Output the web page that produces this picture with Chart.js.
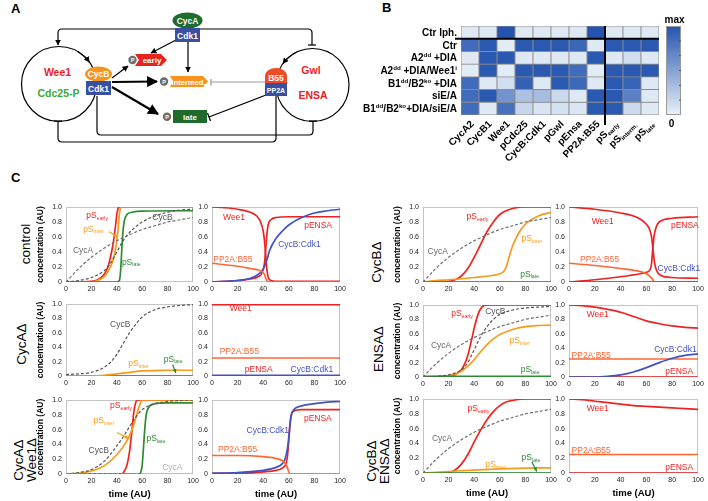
<!DOCTYPE html>
<html>
<head>
<meta charset="utf-8">
<script src="https://cdn.jsdelivr.net/npm/chart.js@4.4.1/dist/chart.umd.min.js"></script>
<style>
  body { margin: 0; background: #fff; width: 708px; height: 501px; overflow: hidden; position: relative;
         font-family: "Liberation Sans", Arial, sans-serif; }
  canvas { position: absolute; }
  .lbl { position: absolute; white-space: nowrap; }
  .panel { font-weight: bold; font-size: 13px; }
  .rot { transform: translate(-50%, -50%) rotate(-90deg); text-align: center; font-size: 13.5px; line-height: 12.5px; }
</style>
</head>
<body>

<div class="lbl panel" style="left:11px;top:1px">A</div>
<div class="lbl panel" style="left:382px;top:0px">B</div>
<div class="lbl panel" style="left:11px;top:170px">C</div>

<div class="lbl rot" style="left:26px;top:244px">control</div>
<div class="lbl rot" style="left:22px;top:344px">CycAΔ</div>
<div class="lbl rot" style="left:25px;top:460px">CycAΔ<br>Wee1Δ</div>
<div class="lbl rot" style="left:377px;top:262px">CycBΔ</div>
<div class="lbl rot" style="left:379px;top:349px">ENSAΔ</div>
<div class="lbl rot" style="left:377.5px;top:461px">CycBΔ<br>ENSAΔ</div>

<!-- panel A: network diagram -->
<svg width="352" height="170" style="position:absolute;left:0;top:0" font-family="Liberation Sans, Arial, sans-serif" font-weight="bold">
  <defs>
    <marker id="ah" viewBox="0 0 10 10" refX="9" refY="5" markerWidth="5" markerHeight="5" orient="auto">
      <path d="M0,0 L10,5 L0,10 z" fill="#000"/>
    </marker>
    <marker id="tb" viewBox="0 0 4 10" refX="2" refY="5" markerWidth="4" markerHeight="7" orient="auto">
      <path d="M2,0 V10" stroke="#000" stroke-width="1.5"/>
    </marker>
    <marker id="tbg" viewBox="0 0 4 10" refX="2" refY="5" markerWidth="4" markerHeight="7" orient="auto">
      <path d="M2,0 V10" stroke="#888" stroke-width="1.5"/>
    </marker>
  </defs>
  <g fill="none" stroke="#000" stroke-width="1.2">
    <circle cx="59" cy="84" r="37.5"/>
    <circle cx="312.5" cy="85" r="36.5"/>
    <path d="M77.75,51.5 A37.5,37.5 0 0 1 89.3,62" marker-end="url(#ah)"/>
    <path d="M295.4,52.8 A36.5,36.5 0 0 0 283,63.5" marker-end="url(#ah)"/>
    <path d="M188,29 H62 Q58,29 58,33 V45" marker-end="url(#ah)"/>
    <path d="M188,29 H308 Q312,29 312,33 V45" marker-end="url(#tb)"/>
    <path d="M97,96 V131 Q97,135 101,135 H309 Q313,135 313,131 V121" marker-end="url(#tb)"/>
    <path d="M276,96 V138 Q276,142 272,142 H62 Q58,142 58,138 V121" marker-end="url(#tb)"/>
    <path d="M176,40 L151,53" marker-end="url(#ah)"/>
    <path d="M188,42 V72" marker-end="url(#ah)"/>
    <path d="M112,78 L128,66" marker-end="url(#ah)"/>
    <path d="M112,82 L157,81.5" stroke-width="2.2" marker-end="url(#ah)"/>
    <path d="M112,87 L158,114" stroke-width="2.2" marker-end="url(#ah)"/>
    <path d="M265,82 H211" stroke="#999" stroke-width="1" marker-end="url(#tbg)"/>
    <path d="M266,95 L209,117" marker-end="url(#tb)"/>
  </g>
  <ellipse cx="187.5" cy="20.5" rx="15" ry="8" fill="#1f6b2c"/>
  <rect x="175" y="28" width="25" height="14" fill="#3b4fa0"/>
  <text x="187.5" y="23.5" fill="#fff" font-size="8.5" text-anchor="middle">CycA</text>
  <text x="187.5" y="38.5" fill="#fff" font-size="8.5" text-anchor="middle">Cdk1</text>

  <ellipse cx="98.5" cy="74" rx="13.5" ry="7.5" fill="#f7941d"/>
  <rect x="86" y="81" width="25" height="14" fill="#3b4fa0"/>
  <text x="98.5" y="77" fill="#fff" font-size="8.5" text-anchor="middle">CycB</text>
  <text x="98.5" y="91.5" fill="#fff" font-size="8.5" text-anchor="middle">Cdk1</text>

  <path d="M265,83 V76 A11,8 0 0 1 287,76 V83 Z" fill="#ef4b24"/>
  <rect x="265" y="83" width="22" height="13" fill="#3b4fa0"/>
  <text x="276" y="80.5" fill="#fff" font-size="8.5" text-anchor="middle">B55</text>
  <text x="276" y="92.5" fill="#fff" font-size="7" text-anchor="middle">PP2A</text>

  <path d="M135,54 H161 L167,60 L161,66 H135 L139,60 Z" fill="#e8231f"/>
  <text x="152" y="63" fill="#fff" font-size="8" text-anchor="middle">early</text>
  <path d="M170,76 H203 L208,81.5 L203,87 H170 L173,81.5 Z" fill="#f7941d"/>
  <text x="188.5" y="84.5" fill="#fff" font-size="7.5" text-anchor="middle">intermed.</text>
  <rect x="173" y="110" width="34" height="13" fill="#1f6b2c"/>
  <text x="190" y="119.5" fill="#fff" font-size="8" text-anchor="middle">late</text>

  <circle cx="132.5" cy="60" r="4.2" fill="#6d6d6d"/>
  <circle cx="164" cy="81.5" r="4.2" fill="#6d6d6d"/>
  <circle cx="167" cy="116.7" r="4.2" fill="#6d6d6d"/>
  <text x="132.5" y="62" fill="#fff" font-size="5.5" text-anchor="middle">P</text>
  <text x="164" y="83.5" fill="#fff" font-size="5.5" text-anchor="middle">P</text>
  <text x="167" y="118.7" fill="#fff" font-size="5.5" text-anchor="middle">P</text>

  <text x="57.5" y="76" fill="#e8231f" font-size="10.5" text-anchor="middle">Wee1</text>
  <text x="58.5" y="97" fill="#3aaa35" font-size="10.5" text-anchor="middle">Cdc25-P</text>
  <text x="311" y="74" fill="#e8231f" font-size="10.5" text-anchor="middle">Gwl</text>
  <text x="313" y="99" fill="#e8231f" font-size="10.5" text-anchor="middle">ENSA</text>
</svg>

<script>
const FONT = '"Liberation Sans", Arial, sans-serif';
Chart.defaults.font.family = FONT;

// ---------- panel B data ----------
const hmCols = ['CycA2', 'CycB1', 'Wee1', 'pCdc25', 'CycB:Cdk1', 'pGwl', 'pEnsa', 'PP2A:B55',
                'pS_{early}', 'pS_{interm.}', 'pS_{late}'];
const hmRows = ['Ctr Iph.', 'Ctr', 'A2^{dd} +DIA', 'A2^{dd} +DIA/Wee1^{i}', 'B1^{dd}/B2^{ko} +DIA',
                'siE/A', 'B1^{dd}/B2^{ko}+DIA/siE/A'];
const valCtrIph   = [0.05, 0.05, 1.00, 0.05, 0.05, 0.05, 0.05, 1.00, 0.05, 0.05, 0.05];
const valCtr      = [0.85, 0.97, 0.03, 0.97, 0.97, 0.97, 0.88, 0.05, 0.97, 0.97, 0.97];
const valA2       = [0.05, 0.97, 0.97, 0.05, 0.05, 0.05, 0.05, 0.97, 0.05, 0.12, 0.05];
const valA2Wee1   = [0.03, 0.97, 0.03, 0.97, 0.97, 0.97, 0.85, 0.03, 0.97, 0.97, 0.97];
const valB1B2     = [0.85, 0.05, 0.12, 0.92, 0.05, 0.97, 0.87, 0.05, 0.97, 0.90, 0.05];
const valSiEA     = [0.85, 0.97, 0.60, 0.30, 0.33, 0.15, 0.05, 0.97, 0.97, 0.72, 0.05];
const valB1B2SiEA = [0.85, 0.05, 0.82, 0.17, 0.08, 0.10, 0.07, 0.97, 0.97, 0.15, 0.05];
const hmValues = [valCtrIph, valCtr, valA2, valA2Wee1, valB1B2, valSiEA, valB1B2SiEA];

// ---------- panel C data: [time, concentration] ----------
const timeTicks = [0, 20, 40, 60, 80, 100];
const concTicks = [0, 0.2, 0.4, 0.6, 0.8, 1];

// control
const ctrlCycA  = [[0,0],[10,0.18],[20,0.33],[30,0.45],[40,0.55],[50,0.63],[60,0.7],[70,0.75],[80,0.8],[90,0.83],[100,0.86]];
const ctrlCycB  = [[0,0],[10,0.02],[20,0.06],[30,0.15],[35,0.25],[40,0.4],[45,0.55],[50,0.66],[60,0.8],[70,0.88],[80,0.93],[90,0.96],[100,0.97]];
const ctrlEarly = [[0,0],[20,0.01],[25,0.03],[30,0.1],[33,0.2],[35,0.33],[37,0.5],[39,0.75],[40,0.9],[41,0.98],[42,1],[100,1]];
const ctrlInter = [[0,0],[20,0],[25,0.02],[30,0.07],[35,0.2],[38,0.35],[40,0.55],[41,0.7],[42,0.9],[43,0.99],[44,1],[100,1]];
const ctrlLate  = [[0,0],[40,0],[42,0.02],[43,0.15],[44,0.45],[45,0.7],[46,0.82],[48,0.9],[52,0.93],[60,0.945],[100,0.95]];
const ctrlWee1  = [[0,1],[10,0.99],[20,0.97],[30,0.93],[35,0.88],[38,0.8],[40,0.68],[41,0.55],[42,0.35],[43,0.15],[44,0.06],[46,0.02],[50,0.01],[100,0.01]];
const ctrlPENSA = [[0,0],[20,0.02],[30,0.04],[36,0.07],[39,0.12],[41,0.25],[42,0.45],[43,0.65],[44,0.77],[46,0.83],[50,0.86],[60,0.87],[100,0.87]];
const ctrlCdk1  = [[0,0],[20,0.02],[30,0.05],[36,0.1],[40,0.17],[43,0.3],[45,0.42],[50,0.58],[55,0.68],[60,0.76],[70,0.86],[80,0.92],[90,0.95],[100,0.97]];
const ctrlPP2A  = [[0,0.25],[10,0.23],[20,0.21],[30,0.18],[36,0.16],[39,0.14],[41,0.1],[42,0.05],[43,0.01],[44,0],[100,0]];

// CycB deletion
const cbCycA  = [[0,0],[10,0.18],[20,0.33],[30,0.45],[40,0.55],[50,0.63],[60,0.7],[70,0.75],[80,0.8],[90,0.83],[100,0.86]];
const cbEarly = [[0,0],[20,0.01],[25,0.03],[30,0.08],[35,0.18],[40,0.33],[45,0.5],[50,0.67],[55,0.8],[60,0.9],[65,0.95],[70,0.98],[80,1],[100,1]];
const cbInter = [[0,0],[10,0.02],[20,0.03],[40,0.06],[55,0.09],[60,0.11],[63,0.14],[65,0.2],[67,0.32],[70,0.48],[75,0.66],[80,0.77],[90,0.88],[100,0.93]];
const cbLate  = [[0,0],[100,0]];
const cbWee1  = [[0,1],[20,0.97],[40,0.92],[50,0.88],[56,0.83],[60,0.77],[62,0.72],[64,0.6],[65,0.45],[66,0.3],[67,0.2],[69,0.12],[72,0.08],[80,0.06],[100,0.05]];
const cbPENSA = [[0,0],[20,0.03],[40,0.07],[55,0.11],[60,0.13],[63,0.17],[64,0.25],[65,0.45],[66,0.62],[68,0.75],[70,0.8],[80,0.85],[100,0.87]];
const cbCdk1  = [[0,0],[100,0]];
const cbPP2A  = [[0,0.25],[20,0.22],[40,0.18],[55,0.14],[60,0.11],[63,0.07],[65,0.03],[66,0],[100,0]];

// CycA deletion
const caCycB  = [[0,0.02],[10,0.03],[20,0.05],[30,0.12],[35,0.19],[40,0.3],[45,0.45],[50,0.6],[55,0.72],[60,0.82],[70,0.92],[80,0.96],[90,0.98],[100,0.99]];
const caInter = [[0,0],[20,0],[30,0.01],[40,0.03],[50,0.05],[60,0.07],[70,0.075],[80,0.08],[100,0.08]];
const caLate  = [[0,0],[100,0]];
const caWee1  = [[0,0.99],[100,0.99]];
const caPP2A  = [[0,0.25],[100,0.25]];
const caPENSA = [[0,0],[100,0]];
const caCdk1  = [[0,0.01],[100,0.01]];

// ENSA deletion
const enCycA  = [[0,0],[10,0.18],[20,0.33],[30,0.45],[40,0.55],[50,0.63],[60,0.7],[70,0.75],[80,0.8],[90,0.83],[100,0.86]];
const enCycB  = [[0,0],[10,0.01],[20,0.03],[30,0.1],[35,0.2],[40,0.38],[45,0.56],[50,0.7],[55,0.8],[60,0.87],[70,0.93],[80,0.96],[90,0.97],[100,0.98]];
const enEarly = [[0,0],[20,0.01],[25,0.03],[30,0.1],[33,0.2],[35,0.3],[38,0.52],[40,0.68],[43,0.87],[46,0.97],[50,1],[100,1]];
const enInter = [[0,0],[20,0.02],[25,0.04],[30,0.08],[35,0.15],[40,0.24],[45,0.35],[50,0.45],[55,0.53],[60,0.59],[70,0.66],[80,0.7],[90,0.715],[100,0.72]];
const enLate  = [[0,0.01],[100,0.01]];
const enWee1  = [[0,1],[10,0.99],[20,0.97],[30,0.94],[40,0.9],[50,0.84],[60,0.78],[70,0.74],[80,0.71],[90,0.69],[100,0.68]];
const enCdk1  = [[0,0],[20,0],[30,0.01],[40,0.03],[50,0.07],[60,0.13],[70,0.2],[80,0.26],[90,0.3],[100,0.32]];
const enPP2A  = [[0,0.25],[100,0.25]];
const enPENSA = [[0,0],[100,0]];

// CycA + Wee1 deletion
const cwCycA  = [[0,0],[100,0]];
const cwCycB  = [[0,0],[10,0.02],[20,0.06],[30,0.17],[40,0.38],[45,0.5],[50,0.64],[55,0.77],[60,0.87],[70,0.95],[80,0.98],[100,1]];
const cwEarly = [[0,0],[44,0],[46,0.04],[48,0.12],[50,0.3],[52,0.6],[53,0.78],[54,0.9],[55,0.97],[56,1],[100,1]];
const cwInter = [[0,0],[10,0.01],[20,0.04],[30,0.11],[40,0.26],[45,0.37],[50,0.52],[53,0.65],[55,0.76],[57,0.88],[59,0.97],[60,1],[100,1]];
const cwLate  = [[0,0],[58,0],[59,0.03],[60,0.12],[61,0.35],[62,0.6],[63,0.78],[64,0.86],[66,0.92],[70,0.95],[80,0.96],[100,0.96]];
const cwCdk1  = [[0,0.01],[20,0.02],[40,0.05],[50,0.09],[55,0.14],[57,0.2],[59,0.35],[60,0.5],[61,0.68],[62,0.8],[64,0.87],[70,0.92],[80,0.95],[90,0.97],[100,0.98]];
const cwPENSA = [[0,0.01],[20,0.01],[40,0.03],[50,0.05],[55,0.08],[58,0.15],[59,0.25],[60,0.45],[61,0.68],[62,0.8],[64,0.85],[70,0.87],[100,0.87]];
const cwPP2A  = [[0,0.25],[20,0.25],[40,0.235],[50,0.21],[55,0.18],[57,0.15],[59,0.08],[60,0.03],[61,0],[100,0]];

// CycB + ENSA deletion
const ceCycA  = [[0,0],[10,0.18],[20,0.33],[30,0.45],[40,0.55],[50,0.63],[60,0.7],[70,0.75],[80,0.8],[90,0.83],[100,0.86]];
const ceEarly = [[0,0],[20,0],[25,0.04],[30,0.12],[35,0.25],[40,0.42],[45,0.58],[50,0.72],[55,0.83],[60,0.91],[65,0.96],[70,0.98],[80,1],[100,1]];
const ceInter = [[0,0],[20,0.02],[40,0.04],[60,0.055],[80,0.065],[100,0.07]];
const ceLate  = [[0,0],[100,0]];
const ceWee1  = [[0,1],[10,0.99],[20,0.97],[30,0.95],[40,0.93],[50,0.91],[60,0.9],[70,0.89],[80,0.88],[90,0.87],[100,0.86]];
const cePP2A  = [[0,0.25],[100,0.25]];
const cePENSA = [[0,0],[100,0]];

// ---------- styles ----------
const COLORS = {
  early: '#f2231d', inter: '#f89a1c', late: '#2f8a34', cycA: '#6e6e6e', cycB: '#555555',
  cycAoff: '#b0b0b0', wee1: '#ee2222', pensa: '#ee2222', cdk1: '#4152c2', pp2a: '#ff6633'
};
const DASHED = { cycA: true, cycB: true, cycAoff: true };

// ---------- panel C layout ----------
const panels = [
  { x: 66, y: 207, w: 127, h: 75, yTitle: true,
    series: [['cycA', ctrlCycA], ['cycB', ctrlCycB], ['late', ctrlLate], ['inter', ctrlInter], ['early', ctrlEarly]],
    notes: [['pS_{early}', 'early', 16, 0.89], ['pS_{inter}', 'inter', 13.5, 0.71], ['CycB', 'cycB', 68, 0.86],
            ['CycA', 'cycA', 5.5, 0.43], ['pS_{late}', 'late', 44, 0.27]],
    arrows: [['inter', 34, 0.67, 40.5, 0.6]] },
  { x: 212, y: 207, w: 128, h: 75,
    series: [['pp2a', ctrlPP2A], ['cdk1', ctrlCdk1], ['pensa', ctrlPENSA], ['wee1', ctrlWee1]],
    notes: [['Wee1', 'wee1', 8.6, 0.87], ['pENSA', 'pensa', 72, 0.76], ['CycB:Cdk1', 'cdk1', 51.7, 0.51],
            ['PP2A:B55', 'pp2a', 1, 0.3]], arrows: [] },
  { x: 423, y: 207, w: 128, h: 75, yTitle: true,
    series: [['cycA', cbCycA], ['late', cbLate], ['inter', cbInter], ['early', cbEarly]],
    notes: [['pS_{early}', 'early', 34, 0.875], ['pS_{inter}', 'inter', 77, 0.58], ['CycA', 'cycA', 3.6, 0.41],
            ['pS_{late}', 'late', 76, 0.11]], arrows: [] },
  { x: 569, y: 207, w: 129, h: 75,
    series: [['cdk1', cbCdk1], ['pp2a', cbPP2A], ['pensa', cbPENSA], ['wee1', cbWee1]],
    notes: [['Wee1', 'wee1', 17.6, 0.81], ['pENSA', 'pensa', 79, 0.76], ['PP2A:B55', 'pp2a', 8.5, 0.3],
            ['CycB:Cdk1', 'cdk1', 68.7, 0.18]], arrows: [] },

  { x: 66, y: 304, w: 127, h: 72, yTitle: true,
    series: [['cycB', caCycB], ['inter', caInter], ['late', caLate]],
    notes: [['CycB', 'cycB', 34.7, 0.72], ['pS_{inter}', 'inter', 49, 0.18], ['pS_{late}', 'late', 77, 0.24]],
    arrows: [['late', 84, 0.16, 86.5, 0.04]] },
  { x: 212, y: 304, w: 128, h: 72,
    series: [['cdk1', caCdk1], ['pp2a', caPP2A], ['pensa', caPENSA], ['wee1', caWee1]],
    notes: [['Wee1', 'wee1', 13.8, 0.94], ['PP2A:B55', 'pp2a', 6, 0.34], ['pENSA', 'pensa', 25.6, 0.1],
            ['CycB:Cdk1', 'cdk1', 61.4, 0.1]], arrows: [] },
  { x: 423, y: 305, w: 128, h: 72, yTitle: true,
    series: [['cycA', enCycA], ['cycB', enCycB], ['late', enLate], ['inter', enInter], ['early', enEarly]],
    notes: [['pS_{early}', 'early', 22, 0.89], ['CycB', 'cycB', 48.6, 0.92], ['CycA', 'cycA', 6.2, 0.44],
            ['pS_{inter}', 'inter', 67.5, 0.51], ['pS_{late}', 'late', 76.4, 0.11]], arrows: [] },
  { x: 569, y: 305, w: 129, h: 72,
    series: [['cdk1', enCdk1], ['pp2a', enPP2A], ['pensa', enPENSA], ['wee1', enWee1]],
    notes: [['Wee1', 'wee1', 13.7, 0.88], ['CycB:Cdk1', 'cdk1', 66, 0.39], ['PP2A:B55', 'pp2a', 2, 0.31],
            ['pENSA', 'pensa', 74.6, 0.08]], arrows: [] },

  { x: 66, y: 400, w: 127, h: 74, yTitle: true, xTitle: true,
    series: [['cycAoff', cwCycA], ['cycB', cwCycB], ['late', cwLate], ['inter', cwInter], ['early', cwEarly]],
    notes: [['pS_{early}', 'early', 34.7, 0.93], ['pS_{inter}', 'inter', 21.7, 0.73], ['pS_{late}', 'late', 63.4, 0.48],
            ['CycB', 'cycB', 17.8, 0.33], ['CycA', 'cycAoff', 75.7, 0.1]],
    arrows: [['inter', 40, 0.56, 49.5, 0.48]] },
  { x: 212, y: 400, w: 128, h: 74, xTitle: true,
    series: [['pp2a', cwPP2A], ['cdk1', cwCdk1], ['pensa', cwPENSA]],
    notes: [['pENSA', 'pensa', 71.8, 0.76], ['CycB:Cdk1', 'cdk1', 27, 0.59], ['PP2A:B55', 'pp2a', 4.7, 0.34]],
    arrows: [] },
  { x: 423, y: 399, w: 128, h: 74, yTitle: true, xTitle: true,
    series: [['cycA', ceCycA], ['late', ceLate], ['inter', ceInter], ['early', ceEarly]],
    notes: [['pS_{early}', 'early', 34.8, 0.88], ['CycA', 'cycA', 7, 0.47], ['pS_{inter}', 'inter', 48.6, 0.12],
            ['pS_{late}', 'late', 77, 0.21]],
    arrows: [['late', 85, 0.15, 89, 0.02]] },
  { x: 569, y: 399, w: 129, h: 74, xTitle: true,
    series: [['pp2a', cePP2A], ['pensa', cePENSA], ['wee1', ceWee1]],
    notes: [['Wee1', 'wee1', 13.7, 0.88], ['PP2A:B55', 'pp2a', 2, 0.31], ['pENSA', 'pensa', 74.6, 0.08]],
    arrows: [] }
];

// ---------- helpers ----------
function parseRich(s) {
  const parts = [];
  const re = /([_^])\{([^}]*)\}/g;
  let last = 0, m;
  while ((m = re.exec(s))) {
    if (m.index > last) parts.push([s.slice(last, m.index), '']);
    parts.push([m[2], m[1]]);
    last = re.lastIndex;
  }
  if (last < s.length) parts.push([s.slice(last), '']);
  return parts;
}

function drawRich(ctx, s, x, y, size, weight, align, color) {
  const segs = parseRich(s).map(([t, mode]) => {
    const fs = mode ? size * 0.62 : size;
    ctx.font = `${weight} ${fs}px ${FONT}`;
    return { t, mode, fs, w: ctx.measureText(t).width };
  });
  const total = segs.reduce((a, g) => a + g.w, 0);
  let cx = align === 'right' ? x - total : align === 'center' ? x - total / 2 : x;
  ctx.fillStyle = color;
  ctx.textAlign = 'left';
  ctx.textBaseline = 'alphabetic';
  const base = y + size * 0.35;
  segs.forEach(g => {
    ctx.font = `${weight} ${g.fs}px ${FONT}`;
    const dy = g.mode === '_' ? size * 0.2 : g.mode === '^' ? -size * 0.4 : 0;
    ctx.fillText(g.t, cx, base + dy);
    cx += g.w;
  });
}

function addCanvas(left, top, w, h) {
  const c = document.createElement('canvas');
  c.width = w; c.height = h;
  c.style.left = left + 'px'; c.style.top = top + 'px';
  c.style.width = w + 'px'; c.style.height = h + 'px';
  document.body.appendChild(c);
  return c;
}

// ---------- panel C charts ----------
panels.forEach(p => {
  const PL = p.yTitle ? 30 : 22, PR = 8, PT = 6, PB = p.xTitle ? 26 : 14;
  const canvas = addCanvas(p.x - PL, p.y - PT, p.w + PL + PR, p.h + PT + PB);

  const datasets = p.series.map(([kind, pts]) => ({
    data: pts.map(([t, v]) => ({ x: t, y: v })),
    borderColor: COLORS[kind],
    borderWidth: DASHED[kind] ? 1.2 : 1.7,
    borderDash: DASHED[kind] ? [3, 2] : [],
    pointRadius: 0,
    cubicInterpolationMode: 'monotone',
    fill: false
  }));

  const notes = {
    id: 'notes',
    beforeDatasetsDraw(chart) {
      const { ctx, chartArea: a } = chart;
      ctx.save();
      ctx.strokeStyle = '#c4c4c4';
      ctx.lineWidth = 1;
      ctx.strokeRect(a.left + 0.5, a.top + 0.5, a.width - 1, a.height - 1);
      ctx.restore();
    },
    afterDatasetsDraw(chart) {
      const { ctx, scales: { x, y } } = chart;
      ctx.save();
      p.notes.forEach(([text, kind, t, v]) => {
        drawRich(ctx, text, x.getPixelForValue(t), y.getPixelForValue(v), 8.5, 'normal', 'left', COLORS[kind]);
      });
      p.arrows.forEach(([kind, t1, v1, t2, v2]) => {
        const x1 = x.getPixelForValue(t1), y1 = y.getPixelForValue(v1);
        const x2 = x.getPixelForValue(t2), y2 = y.getPixelForValue(v2);
        const ang = Math.atan2(y2 - y1, x2 - x1);
        ctx.strokeStyle = ctx.fillStyle = COLORS[kind];
        ctx.lineWidth = 1.2;
        ctx.beginPath(); ctx.moveTo(x1, y1); ctx.lineTo(x2, y2); ctx.stroke();
        ctx.beginPath();
        ctx.moveTo(x2, y2);
        ctx.lineTo(x2 - 4.5 * Math.cos(ang - 0.45), y2 - 4.5 * Math.sin(ang - 0.45));
        ctx.lineTo(x2 - 4.5 * Math.cos(ang + 0.45), y2 - 4.5 * Math.sin(ang + 0.45));
        ctx.closePath(); ctx.fill();
      });
      ctx.restore();
    }
  };

  new Chart(canvas, {
    type: 'line',
    data: { datasets },
    options: {
      responsive: false,
      animation: false,
      events: [],
      layout: { padding: { top: PT, right: PR, left: 0, bottom: 0 } },
      plugins: { legend: { display: false }, tooltip: { enabled: false } },
      scales: {
        x: {
          type: 'linear', min: 0, max: 100,
          grid: { display: false, drawTicks: false }, border: { display: false },
          afterBuildTicks: s => { s.ticks = timeTicks.map(v => ({ value: v })); },
          ticks: { font: { size: 7 }, color: '#222', padding: 3, maxRotation: 0, autoSkip: false },
          title: { display: !!p.xTitle, text: 'time (AU)', color: '#000',
                   font: { size: 9.5, weight: 'bold' }, padding: 0 },
          afterFit: s => { s.height = PB; s.paddingLeft = 0; s.paddingRight = 0; }
        },
        y: {
          type: 'linear', min: 0, max: 1,
          grid: { display: false, drawTicks: false }, border: { display: false },
          afterBuildTicks: s => { s.ticks = concTicks.map(v => ({ value: v })); },
          ticks: { font: { size: 7 }, color: '#222', padding: 4, autoSkip: false },
          title: { display: !!p.yTitle, text: 'concentration (AU)', color: '#000',
                   font: { size: 8.5, weight: 'bold' }, padding: 0 },
          afterFit: s => { s.width = PL; s.paddingTop = 0; s.paddingBottom = 0; }
        }
      }
    },
    plugins: [notes]
  });
});

// ---------- panel B heatmap ----------
(function () {
  const left = 355, top = 0, W = 345, H = 175;
  const gridL = 461, gridT = 26, gridR = 659, gridB = 115;
  const canvas = addCanvas(left, top, W, H);
  const lo = [232, 241, 248], hi = [36, 84, 176];
  const shade = v => 'rgb(' + lo.map((c, i) => Math.round(c + (hi[i] - c) * v)).join(',') + ')';

  const datasets = hmValues.map((row, r) => ({
    data: row.map(() => [r, r + 1]),
    backgroundColor: row.map(shade),
    borderColor: '#8c8c8c',
    borderWidth: 0.8,
    borderSkipped: false,
    grouped: false,
    barPercentage: 1,
    categoryPercentage: 1
  }));

  const labels = {
    id: 'hmLabels',
    afterDatasetsDraw(chart) {
      const { ctx, chartArea: a, scales: { x, y } } = chart;
      ctx.save();
      hmRows.forEach((name, r) => {
        drawRich(ctx, name, a.left - 4, y.getPixelForValue(r + 0.5), 10, 'bold', 'right', '#000');
      });
      hmCols.forEach((name, i) => {
        ctx.save();
        ctx.translate(x.getPixelForValue(i) + 2, a.bottom + 7);
        ctx.rotate(-Math.PI / 4);
        drawRich(ctx, name, 0, 0, 10, 'bold', 'right', '#000');
        ctx.restore();
      });
      // separators
      ctx.strokeStyle = '#000';
      ctx.lineWidth = 2;
      ctx.beginPath();
      ctx.moveTo(a.left - 6, y.getPixelForValue(1));
      ctx.lineTo(a.right, y.getPixelForValue(1));
      const sx = (x.getPixelForValue(7) + x.getPixelForValue(8)) / 2;
      ctx.moveTo(sx, a.top);
      ctx.lineTo(sx, a.bottom + 10);
      ctx.stroke();
      // colour bar
      const cbx = a.right + 7, cbw = 15;
      const g = ctx.createLinearGradient(0, a.top, 0, a.bottom);
      g.addColorStop(0, shade(1));
      g.addColorStop(1, shade(0));
      ctx.fillStyle = g;
      ctx.fillRect(cbx, a.top, cbw, a.height);
      ctx.strokeStyle = '#999';
      ctx.lineWidth = 1;
      ctx.strokeRect(cbx + 0.5, a.top + 0.5, cbw - 1, a.height - 1);
      ctx.strokeStyle = '#555';
      for (let k = 1; k < 6; k++) {
        const ty = a.top + a.height * k / 6;
        ctx.beginPath(); ctx.moveTo(cbx + cbw - 2, ty); ctx.lineTo(cbx + cbw, ty); ctx.stroke();
      }
      drawRich(ctx, 'max', cbx + cbw / 2 + 1, a.top - 7, 10, 'bold', 'center', '#000');
      drawRich(ctx, '0', cbx + cbw / 2 - 2, a.bottom + 8, 10, 'bold', 'center', '#000');
      ctx.restore();
    }
  };

  new Chart(canvas, {
    type: 'bar',
    data: { labels: hmCols, datasets },
    options: {
      responsive: false,
      animation: false,
      events: [],
      layout: { padding: { left: gridL - left, top: gridT - top, right: left + W - gridR, bottom: top + H - gridB } },
      plugins: { legend: { display: false }, tooltip: { enabled: false } },
      scales: {
        x: { type: 'category', display: false },
        y: { type: 'linear', min: 0, max: hmRows.length, reverse: true, display: false }
      }
    },
    plugins: [labels]
  });
})();
</script>
</body>
</html>
